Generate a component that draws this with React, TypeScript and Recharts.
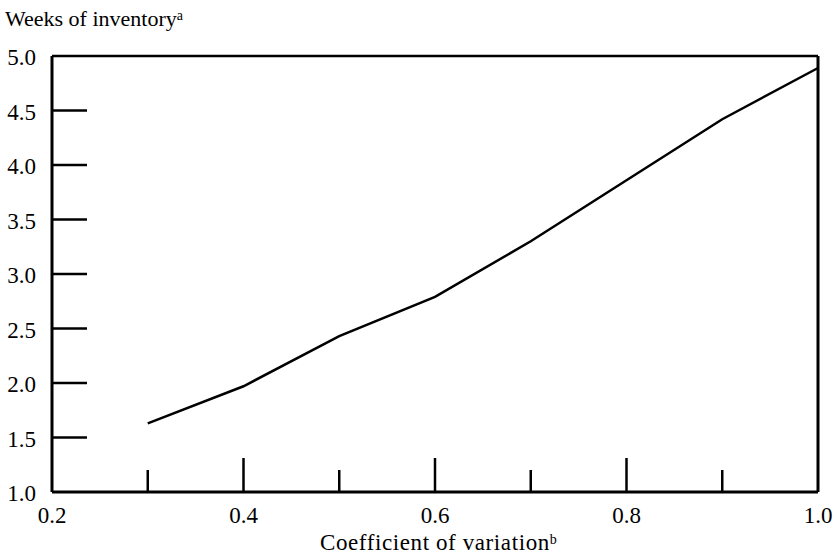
import { LineChart, Line, XAxis, YAxis, ReferenceLine } from 'recharts';

const cvValues = [0.3, 0.4, 0.5, 0.6, 0.7, 0.8, 0.9, 1.0];
const weeksOfInventory = [1.63, 1.97, 2.43, 2.79, 3.3, 3.86, 4.42, 4.89];
const xTicks = [0.2, 0.3, 0.4, 0.5, 0.6, 0.7, 0.8, 0.9, 1.0];
const xLabelTicks = [0.2, 0.4, 0.6, 0.8, 1.0];
const yTicks = [1.0, 1.5, 2.0, 2.5, 3.0, 3.5, 4.0, 4.5, 5.0];

const data = cvValues.map((cv, i) => ({ cv, weeks: weeksOfInventory[i] }));

const FONT = '"Liberation Serif", "Times New Roman", serif';
const near = (a: number, b: number) => Math.abs(a - b) < 1e-6;

// y ticks point into the plot, labels sit outside
function YTick({ x, y, payload }: any) {
  const v = payload.value;
  const edge = near(v, 1) || near(v, 5);
  return (
    <g>
      {!edge && <line x1={x} x2={x + 35} y1={y} y2={y} stroke="#000" strokeWidth={2.5} />}
      <text x={x - 16} y={y + 9} textAnchor="end" fontFamily={FONT} fontSize={23} fill="#000">
        {v.toFixed(1)}
      </text>
    </g>
  );
}

// x ticks go upward from the axis; long at labelled values, short between
function XTick({ x, y, payload }: any) {
  const v = payload.value;
  const labelled = xLabelTicks.some((t) => near(t, v));
  const edge = near(v, 0.2) || near(v, 1);
  const len = labelled ? 34 : 22;
  return (
    <g>
      {!edge && <line x1={x} x2={x} y1={y} y2={y - len} stroke="#000" strokeWidth={2.5} />}
      {labelled && (
        <text x={x} y={y + 31} textAnchor="middle" fontFamily={FONT} fontSize={23} fill="#000">
          {v.toFixed(1)}
        </text>
      )}
    </g>
  );
}

export default function App() {
  return (
    <div style={{ position: 'absolute', left: 0, top: 0, width: 837, height: 558, background: '#fff' }}>
      <LineChart width={837} height={558} data={data} margin={{ top: 56, right: 19, bottom: 0, left: 0 }}>
        <XAxis
          dataKey="cv"
          type="number"
          domain={[0.2, 1.0]}
          ticks={xTicks}
          interval={0}
          height={66}
          tickSize={0}
          tickMargin={0}
          tickLine={false}
          axisLine={{ stroke: '#000', strokeWidth: 3 }}
          tick={<XTick />}
        />
        <YAxis
          type="number"
          domain={[1, 5]}
          ticks={yTicks}
          interval={0}
          width={52}
          tickSize={0}
          tickMargin={0}
          tickLine={false}
          axisLine={{ stroke: '#000', strokeWidth: 3 }}
          tick={<YTick />}
        />
        <ReferenceLine y={5} stroke="#000" strokeWidth={2.5} />
        <ReferenceLine x={1} stroke="#000" strokeWidth={3} />
        <Line
          dataKey="weeks"
          stroke="#000"
          strokeWidth={2.5}
          dot={false}
          isAnimationActive={false}
        />
        <text x={5} y={26} fontFamily={FONT} fontSize={22} fill="#000">
          Weeks of inventory
          <tspan fontSize={14} dy={-6}>a</tspan>
        </text>
        <text x={320} y={550} fontFamily={FONT} fontSize={23} letterSpacing={0.6} fill="#000">
          Coefficient of variation
          <tspan fontSize={14} dy={-6}>b</tspan>
        </text>
      </LineChart>
    </div>
  );
}
